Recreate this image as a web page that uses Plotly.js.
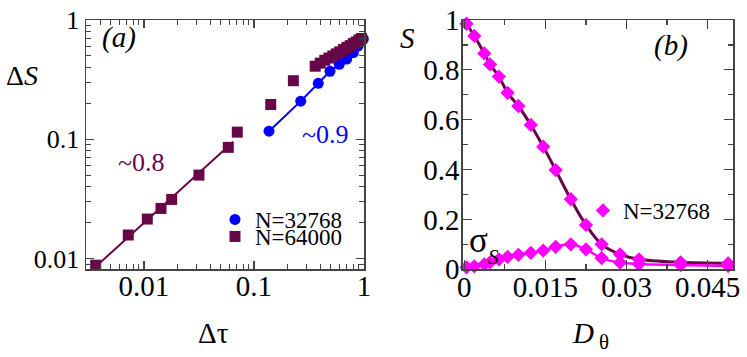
<!DOCTYPE html>
<html><head><meta charset="utf-8">
<script src="https://cdn.plot.ly/plotly-3.0.1.min.js"></script>
<style>html,body{margin:0;padding:0;background:#fff}#chart{width:747px;height:357px}</style>
</head><body><div id="chart"></div>
<script>
// Panel (a): log-log, delta S vs delta tau
const tau32768 = [0.137, 0.266, 0.384, 0.491, 0.596, 0.696, 0.800, 0.882, 0.986];
const dS32768  = [0.117, 0.209, 0.295, 0.372, 0.425, 0.471, 0.532, 0.605, 0.693];
const tau64000 = [0.00364, 0.00720, 0.01072, 0.01428, 0.01786, 0.0316, 0.0584, 0.0705, 0.142, 0.228,
                  0.36, 0.40, 0.44, 0.48, 0.52, 0.56, 0.60, 0.65, 0.70, 0.75, 0.80, 0.85, 0.90, 0.95];
const dS64000  = [0.00883, 0.0158, 0.0215, 0.0264, 0.0314, 0.0502, 0.0857, 0.115, 0.196, 0.310,
                  0.41, 0.435, 0.46, 0.48, 0.50, 0.52, 0.54, 0.565, 0.59, 0.61, 0.635, 0.655, 0.68, 0.70];
const fitTau64000 = [0.00335, 0.0648];
const fitDS64000  = [0.0080, 0.0955];
// Panel (b): S and sigma_S vs D_theta
const Dtheta = [0.0004, 0.00185, 0.0037, 0.00474, 0.0064, 0.0080, 0.0100, 0.0123, 0.0146, 0.0169,
                0.0197, 0.0225, 0.0254, 0.0288, 0.0323, 0.0400, 0.0488];
const S      = [0.985, 0.936, 0.866, 0.822, 0.773, 0.708, 0.655, 0.579, 0.492, 0.398,
                0.281, 0.178, 0.100, 0.060, 0.040, 0.028, 0.024];
const sigmaS = [0.008, 0.012, 0.020, 0.028, 0.040, 0.050, 0.058, 0.066, 0.075, 0.090,
                0.100, 0.080, 0.045, 0.027, 0.021, 0.017, 0.013];
const xTicksA = [0.01, 0.1, 1];
const xTickTextA = ['0.01', '0.1', '1'];
const yTicksA = [0.01, 0.1, 1];
const yTickTextA = ['0.01', '0.1', '1'];

const W = 747, H = 357;
const px = v => v / W, py = v => 1 - v / H;
const MAROON = '#670748', BLUE = '#0000ff', MAGENTA = '#ff00ff', AX = '#444';
const FONT = 'Liberation Serif';

const traces = [
  {x: fitTau64000, y: fitDS64000, mode: 'lines', line: {color: MAROON, width: 2}, xaxis: 'x', yaxis: 'y', showlegend: false},
  {x: tau32768, y: dS32768, mode: 'lines', line: {color: BLUE, width: 2}, xaxis: 'x', yaxis: 'y', showlegend: false},
  {x: tau32768, y: dS32768, mode: 'markers', name: 'N=32768', marker: {symbol: 'circle', size: 11, color: BLUE}, xaxis: 'x', yaxis: 'y', legend: 'legend', cliponaxis: false},
  {x: tau64000, y: dS64000, mode: 'markers', name: 'N=64000', marker: {symbol: 'square', size: 11, color: MAROON}, xaxis: 'x', yaxis: 'y', legend: 'legend3', cliponaxis: false},
  {x: Dtheta, y: S, mode: 'lines', line: {color: MAROON, width: 3, shape: 'spline'}, xaxis: 'x2', yaxis: 'y2', showlegend: false},
  {x: Dtheta, y: sigmaS, mode: 'lines', line: {color: MAGENTA, width: 2.5, shape: 'spline'}, xaxis: 'x2', yaxis: 'y2', showlegend: false},
  {x: Dtheta, y: S, mode: 'markers', name: 'N=32768', marker: {symbol: 'diamond', size: 11, color: MAGENTA}, xaxis: 'x2', yaxis: 'y2', legend: 'legend2', cliponaxis: false},
  {x: Dtheta, y: sigmaS, mode: 'markers', marker: {symbol: 'diamond', size: 11, color: MAGENTA}, xaxis: 'x2', yaxis: 'y2', showlegend: false, cliponaxis: false}
];

const axCommon = {
  showline: true, linecolor: AX, linewidth: 1.5, mirror: 'allticks', ticks: 'inside', ticklen: 8,
  tickcolor: AX, tickwidth: 1.2, showgrid: false, zeroline: false,
  tickfont: {family: FONT, size: 29, color: '#000'}
};
const minorLog = {ticks: 'inside', ticklen: 5, tickcolor: AX, tickwidth: 1, dtick: 'D1', showgrid: false};
const legFont = {family: FONT, size: 23, color: '#000'};

const layout = {
  width: W, height: H, margin: {l: 0, r: 0, t: 0, b: 0},
  paper_bgcolor: '#fff', plot_bgcolor: '#fff',
  font: {family: FONT, color: '#000'},
  xaxis: Object.assign({}, axCommon, {type: 'log', domain: [px(86), px(364)], range: [-2.527, 0],
    anchor: 'y', tickmode: 'array', tickvals: xTicksA, ticktext: xTickTextA, minor: minorLog,
    ticklabelstandoff: -9}),
  yaxis: Object.assign({}, axCommon, {type: 'log', domain: [py(269), py(20)], range: [-2.086, 0],
    anchor: 'x', tickmode: 'array', tickvals: yTicksA, ticktext: yTickTextA, minor: minorLog,
    tickfont: {family: FONT, size: 26, color: '#000'}}),
  xaxis2: Object.assign({}, axCommon, {domain: [px(462.7), px(733)], range: [-0.0003, 0.0497],
    anchor: 'y2', tickmode: 'linear', tick0: 0, dtick: 0.015, ticklen: 9, ticklabelstandoff: -9,
    minor: {ticks: 'inside', ticklen: 5, tickcolor: AX, dtick: 0.0075, tick0: 0}}),
  yaxis2: Object.assign({}, axCommon, {domain: [py(269.3), py(20)], range: [0, 1],
    anchor: 'x2', tickmode: 'linear', tick0: 0, dtick: 0.2, ticklen: 9, ticklabelstandoff: -4,
    minor: {ticks: 'inside', ticklen: 5, tickcolor: AX, dtick: 0.1, tick0: 0}}),
  legend: {x: px(215), y: py(198), xanchor: 'left', yanchor: 'top', bgcolor: 'rgba(0,0,0,0)', font: legFont},
  legend3: {x: px(215), y: py(215), xanchor: 'left', yanchor: 'top', bgcolor: 'rgba(0,0,0,0)', font: legFont},
  legend2: {x: px(583), y: py(189), xanchor: 'left', yanchor: 'top', bgcolor: 'rgba(0,0,0,0)', font: legFont},
  annotations: [
    {text: 'Δ<i>S</i>', x: px(22), y: py(75), size: 28},
    {text: 'Δτ', x: px(213), y: py(333), size: 29},
    {text: '<i>S</i>', x: px(407), y: py(38), size: 29},
    {text: '<i>D</i>', x: px(583), y: py(333), size: 29},
    {text: 'θ', x: px(604), y: py(356), size: 21, ya: 'bottom'},
    {text: 'σ', x: px(478), y: py(240), size: 35},
    {text: '<i>S</i>', x: px(493), y: py(257), size: 21},
    {text: '<i>(a)</i>', x: px(119), y: py(38), size: 29},
    {text: '<i>(b)</i>', x: px(671), y: py(45), size: 29},
    {text: '~0.8', x: px(141), y: py(163), color: MAROON, size: 26},
    {text: '~0.9', x: px(325), y: py(134), color: BLUE, size: 26}
  ].map(a => ({text: a.text, x: a.x, y: a.y, xref: 'paper', yref: 'paper', showarrow: false,
    xanchor: 'center', yanchor: a.ya || 'middle',
    font: {family: FONT, size: a.size || 26, color: a.color || '#000'}}))
};

Plotly.newPlot('chart', traces, layout, {staticPlot: true, displayModeBar: false});
</script></body></html>
